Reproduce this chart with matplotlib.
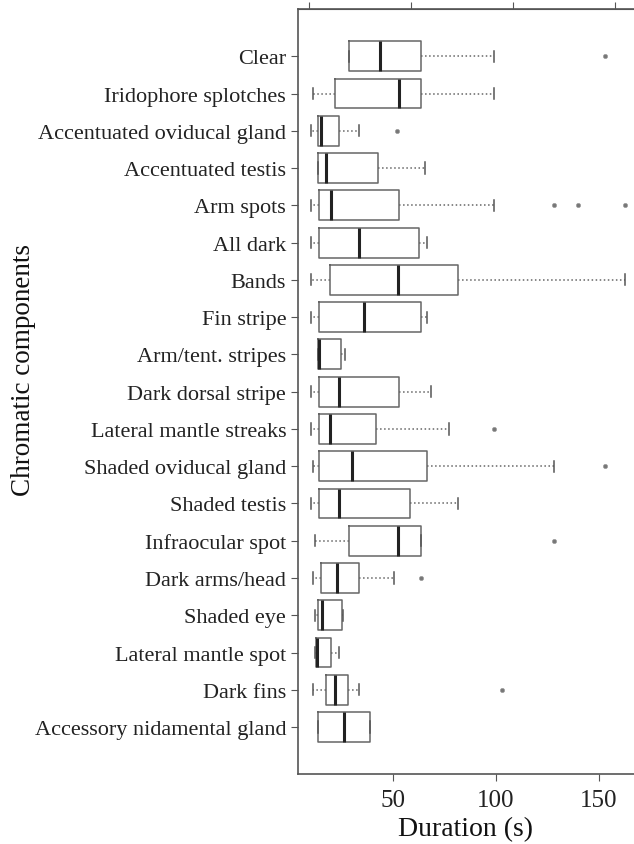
import numpy as np
import matplotlib
matplotlib.use('Agg')
from matplotlib import pyplot as plt

plt.rcParams['font.family'] = ['Liberation Serif', 'DejaVu Serif']

labels = ['Clear', 'Iridophore splotches', 'Accentuated oviducal gland', 'Accentuated testis',
          'Arm spots', 'All dark', 'Bands', 'Fin stripe', 'Arm/tent. stripes',
          'Dark dorsal stripe', 'Lateral mantle streaks', 'Shaded oviducal gland',
          'Shaded testis', 'Infraocular spot', 'Dark arms/head', 'Shaded eye',
          'Lateral mantle spot', 'Dark fins', 'Accessory nidamental gland']

whislo = [28.9, 11.1, 10.2, 13.9, 10.2, 10.2, 10.2, 10.2, 13.9, 10.2, 10.2, 11.1, 10.2, 12.3, 11.1, 12.3, 12.3, 11.1, 13.9]
q1     = [28.9, 22.0, 13.9, 13.9, 14.2, 14.2, 19.6, 14.2, 13.9, 14.2, 14.2, 14.2, 14.2, 28.9, 15.0, 13.9, 12.8, 17.6, 13.9]
med    = [43.8, 52.9, 15.2, 17.5, 20.0, 33.8, 52.7, 36.1, 14.2, 24.1, 19.6, 30.4, 24.1, 52.7, 23.1, 15.5, 13.1, 22.0, 26.5]
q3     = [63.7, 63.7, 24.1, 43.0, 52.9, 62.9, 81.6, 63.7, 24.8, 53.2, 41.9, 66.5, 58.1, 63.7, 33.8, 25.5, 20.0, 28.2, 39.0]
whishi = [99.2, 99.2, 33.8, 65.7, 99.2, 66.5, 162.8, 66.5, 26.8, 68.6, 77.5, 128.0, 81.4, 63.7, 50.8, 26.0, 24.1, 33.8, 39.0]
fliers = [[152.7], [], [52.2], [], [128.0, 139.8, 162.8], [], [], [], [], [], [99.2],
          [152.7], [], [128.0], [63.6], [], [], [103.2], []]

stats = []
for i in range(len(labels)):
    stats.append(dict(label=labels[i], whislo=whislo[i], q1=q1[i], med=med[i],
                      q3=q3[i], whishi=whishi[i], fliers=fliers[i]))

fig = plt.figure(figsize=(6.34, 8.45), dpi=100)
ax = fig.add_axes([0.470, 0.0828, 0.530, 0.905])

pos = np.arange(len(labels))
ax.bxp(stats, positions=pos, vert=False, widths=0.8, showcaps=True,
       boxprops=dict(color='#666666', linewidth=1.1),
       medianprops=dict(color='#222222', linewidth=2.2),
       whiskerprops=dict(color='#666666', linewidth=1.1, linestyle=':'),
       capprops=dict(color='#555555', linewidth=1.1),
       capwidths=0.3,
       flierprops=dict(marker='o', markersize=3, markerfacecolor='#777777',
                       markeredgecolor='#999999', markeredgewidth=0.5))

ax.set_xlim(4, 167)
ax.set_ylim(len(labels) - 1 + 1.26, -1.26)
ax.set_yticks(pos)
ax.set_yticklabels(labels, fontsize=16, color='#222222')
ax.set_xticks([50, 100, 150])
ax.set_xticklabels(['50', '100', '150'], fontsize=18, color='#222222')
ax.set_xlabel('Duration (s)', fontsize=20, color='#111111')
ax.xaxis.set_label_coords(0.5, -0.055)
ax.set_ylabel('Chromatic components', fontsize=19.5, color='#111111')
ax.yaxis.set_label_coords(-0.78, 0.529)

for s in ['left', 'bottom', 'top']:
    ax.spines[s].set_color('#555555')
    ax.spines[s].set_linewidth(1.2)
ax.spines['right'].set_visible(False)
ax.tick_params(axis='both', colors='#555555', length=5, labelcolor='#222222')
ax.tick_params(axis='x', pad=6)

# top axis ticks sit a little off the bottom ones in the original
top = ax.secondary_xaxis('top')
top.set_xticks([9.5, 59, 108.5, 158])
top.set_xticklabels([])
top.tick_params(colors='#555555', length=5)
top.spines['top'].set_color('#555555')

fig.savefig('out.png', dpi=100)
